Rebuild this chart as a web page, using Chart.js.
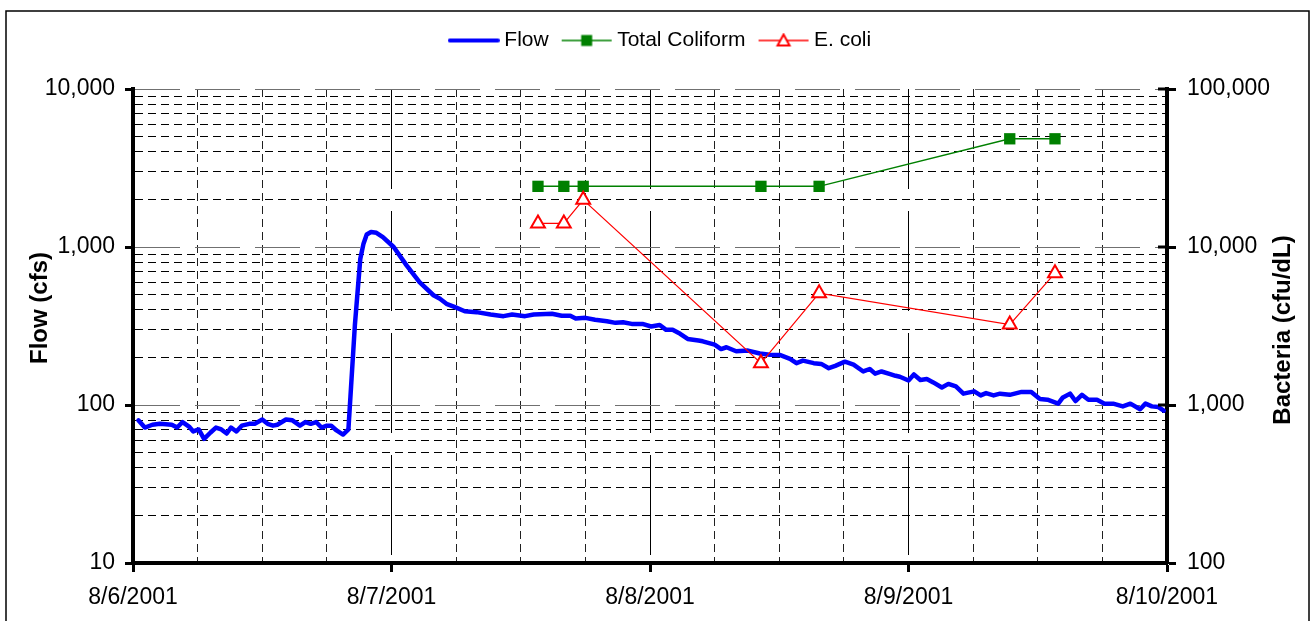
<!DOCTYPE html>
<html>
<head>
<meta charset="utf-8">
<script src="https://cdn.jsdelivr.net/npm/chart.js@4/dist/chart.umd.min.js"></script>
<style>
html,body{margin:0;padding:0;background:#fff;}
#wrap{width:1312px;height:621px;position:relative;}
</style>
</head>
<body>
<div id="wrap"><canvas id="c" width="1312" height="621"></canvas></div>
<script>
// ---------- data ----------
const dayLabels = ['8/6/2001', '8/7/2001', '8/8/2001', '8/9/2001', '8/10/2001'];
const xTickHours = [0, 6, 12, 18, 24, 30, 36, 42, 48, 54, 60, 66, 72, 78, 84, 90, 96];
const flowTickValues = [10, 20, 30, 40, 50, 60, 70, 80, 90, 100, 200, 300, 400, 500, 600, 700, 800, 900, 1000, 2000, 3000, 4000, 5000, 6000, 7000, 8000, 9000, 10000];
const bacteriaTickValues = [100, 1000, 10000, 100000];
const legendNames = ['Flow', 'Total Coliform', 'E. coli'];
const axisTitles = ['Flow (cfs)', 'Bacteria (cfu/dL)'];

// hours after 8/6/2001 00:00
const flowHours = [0.5, 1.1, 1.8, 2.5, 3.6, 4.1, 4.6, 5.2, 5.6, 6.1,
  6.6, 7.2, 7.7, 8.2, 8.7, 9.1, 9.6, 10.1, 10.8, 11.3,
  12.0, 12.5, 13.0, 13.4, 14.2, 14.8, 15.5, 16.0, 16.5, 17.0,
  17.5, 18.0, 18.4, 18.9, 19.5, 20.0, 20.6, 21.1, 21.4, 21.7,
  22.1, 22.6, 23.2, 24.2, 25.4, 26.6, 27.9, 28.5, 29.1, 29.9,
  30.8, 31.9, 33.2, 34.4, 35.2, 36.4, 37.2, 38.9, 39.8, 40.6,
  41.1, 42.0, 42.9, 44.0, 44.8, 45.5, 46.3, 47.3, 48.1, 48.9,
  49.5, 50.1, 50.8, 51.5, 52.5, 52.9, 54.0, 54.6, 55.1, 56.0,
  57.1, 58.2, 59.1, 60.1, 61.0, 61.6, 62.2, 63.2, 63.9, 64.6,
  65.2, 66.1, 66.9, 67.8, 68.4, 68.9, 69.5, 70.3, 70.8, 71.2,
  72.0, 72.5, 73.1, 73.7, 74.3, 75.1, 75.7, 76.4, 77.1, 78.1,
  78.7, 79.2, 79.9, 80.5, 81.4, 82.5, 83.4, 84.2, 84.9, 85.9,
  86.3, 87.0, 87.5, 88.1, 88.7, 89.5, 90.2, 91.0, 91.9, 92.6,
  93.5, 94.0, 94.6, 95.2, 95.7];
const flowValues = [80, 72, 75, 76, 75, 72, 78, 73, 68, 70,
  61, 67, 72, 70, 66, 72, 68, 74, 76, 76,
  81, 76, 74, 75, 81, 80, 74, 78, 76, 78,
  72, 74, 74, 69, 65, 70, 320, 840, 1050, 1200,
  1245, 1230, 1155, 1000, 765, 600, 495, 470, 437, 416,
  392, 387, 374, 365, 374, 365, 374, 378, 367, 367,
  353, 356, 346, 339, 331, 334, 326, 326, 314, 321,
  299, 299, 282, 262, 256, 253, 241, 226, 232, 219,
  221, 212, 208, 207, 196, 184, 191, 184, 182, 171,
  177, 188, 180, 163, 169, 158, 163, 157, 153, 151,
  143, 156, 144, 146, 139, 129, 136, 131, 118, 122,
  115, 119, 115, 118, 116, 121, 121, 109, 108, 102,
  111, 118, 106, 116, 108, 108, 102, 102, 98, 102,
  94, 102, 98, 97, 92];

const sampleHours = [37.6, 40.0, 41.8, 58.3, 63.7, 81.4, 85.6];
const totalColiform = [24200, 24200, 24200, 24200, 24200, 48400, 48400];
const eColi = [14100, 14100, 19900, 1840, 5100, 3230, 6830];

// ---------- helpers ----------
const FONT = '"Liberation Sans", Arial, sans-serif';
const fmt = v => String(Math.round(v)).replace(/\B(?=(\d{3})+(?!\d))/g, ',');
const isDecade = v => Math.abs(Math.log10(v) - Math.round(Math.log10(v))) < 1e-9;
const pts = (xs, ys) => xs.map((x, i) => ({x: x, y: ys[i]}));

function makeIcon(kind) {
  const c = document.createElement('canvas');
  c.width = 52; c.height = 16;
  const g = c.getContext('2d');
  const cy = 8;
  if (kind === 0) {
    g.strokeStyle = '#0000FF'; g.lineWidth = 4; g.lineCap = 'round';
    g.beginPath(); g.moveTo(2, cy); g.lineTo(50, cy); g.stroke();
  } else if (kind === 1) {
    g.strokeStyle = '#008000'; g.lineWidth = 1.5;
    g.beginPath(); g.moveTo(1, cy); g.lineTo(51, cy); g.stroke();
    g.fillStyle = '#008000'; g.fillRect(20.5, cy - 5.5, 11, 11);
  } else {
    g.strokeStyle = '#FF0000'; g.lineWidth = 1.5;
    g.beginPath(); g.moveTo(1, cy); g.lineTo(51, cy); g.stroke();
    g.fillStyle = '#FFFFFF'; g.lineWidth = 2;
    g.beginPath(); g.moveTo(26, cy - 6); g.lineTo(32, cy + 5); g.lineTo(20, cy + 5); g.closePath();
    g.fill(); g.stroke();
  }
  return c;
}
const legendIcons = [makeIcon(0), makeIcon(1), makeIcon(2)];

const legendHeightPlugin = {
  id: 'legendHeight',
  beforeUpdate(chart) {
    const lg = chart.legend;
    if (lg && !lg._hPatched) {
      const f = lg.fit;
      lg.fit = function () { f.call(this); this.height = 77; };
      lg._hPatched = true;
    }
  }
};

const framePlugin = {
  id: 'frame',
  beforeDraw(chart) {
    const ctx = chart.ctx;
    ctx.save();
    ctx.fillStyle = '#fff';
    ctx.fillRect(0, 0, chart.width, chart.height);
    ctx.restore();
  },
  afterDatasetsDraw(chart) {
    // right-axis decade tick marks also cross into the plot area
    const ctx = chart.ctx, s = chart.scales.y2, ca = chart.chartArea;
    ctx.save();
    ctx.strokeStyle = '#000';
    ctx.lineWidth = 3;
    bacteriaTickValues.forEach(v => {
      const py = s.getPixelForValue(v);
      ctx.beginPath(); ctx.moveTo(ca.right - 9, py); ctx.lineTo(ca.right, py); ctx.stroke();
    });
    ctx.restore();
  },
  afterDraw(chart) {
    const ctx = chart.ctx;
    const ca = chart.chartArea;
    ctx.save();
    ctx.strokeStyle = '#000';
    ctx.lineWidth = 1.5;
    ctx.strokeRect(6, 11, chart.width - 9, chart.height + 10);
    ctx.font = 'bold 24px ' + FONT;
    ctx.fillStyle = '#000';
    ctx.textAlign = 'center';
    ctx.textBaseline = 'middle';
    // left axis title
    ctx.save();
    ctx.translate(40, (ca.top + ca.bottom) / 2 - 18);
    ctx.rotate(-Math.PI / 2);
    ctx.fillText(axisTitles[0], 0, 0);
    ctx.restore();
    // right axis title (reads bottom-to-top)
    ctx.save();
    ctx.translate(1283, (ca.top + ca.bottom) / 2 + 4);
    ctx.rotate(-Math.PI / 2);
    ctx.fillText(axisTitles[1], 0, 0);
    ctx.restore();
    ctx.restore();
  }
};

new Chart(document.getElementById('c'), {
  type: 'line',
  data: {
    datasets: [
      {
        label: legendNames[0],
        data: pts(flowHours, flowValues),
        yAxisID: 'y',
        borderColor: '#0000FF',
        borderWidth: 4.5,
        pointRadius: 0,
        tension: 0,
        borderJoinStyle: 'round',
        borderCapStyle: 'round',
        order: 3
      },
      {
        label: legendNames[1],
        data: pts(sampleHours, totalColiform),
        yAxisID: 'y2',
        borderColor: '#008000',
        borderWidth: 1.5,
        pointStyle: 'rect',
        pointRadius: 8,
        pointBackgroundColor: '#008000',
        pointBorderColor: '#008000',
        pointBorderWidth: 0,
        tension: 0,
        order: 2
      },
      {
        label: legendNames[2],
        data: pts(sampleHours, eColi),
        yAxisID: 'y2',
        borderColor: '#FF0000',
        borderWidth: 1.2,
        pointStyle: 'triangle',
        pointRadius: 8,
        pointBackgroundColor: '#FFFFFF',
        pointBorderColor: '#FF0000',
        pointBorderWidth: 2,
        tension: 0,
        order: 1
      }
    ]
  },
  options: {
    responsive: false,
    animation: false,
    devicePixelRatio: 1,
    layout: {padding: {left: 13, right: 0, top: 12, bottom: 0}},
    plugins: {
      tooltip: {enabled: false},
      legend: {
        display: true,
        position: 'top',
        align: 'center',
        labels: {
          usePointStyle: true,
          pointStyleWidth: 40,
          padding: 18,
          color: '#000',
          font: {family: FONT, size: 21},
          generateLabels: () => legendNames.map((t, i) => ({
            text: t, pointStyle: legendIcons[i], fillStyle: 'rgba(0,0,0,0)',
            strokeStyle: 'rgba(0,0,0,0)', lineWidth: 0, hidden: false,
            datasetIndex: i, fontColor: '#000'
          }))
        }
      }
    },
    scales: {
      x: {
        type: 'linear',
        min: 0, max: 96,
        afterBuildTicks: s => { s.ticks = xTickHours.map(v => ({value: v})); },
        afterFit: s => { s.height = 58; },
        ticks: {
          autoSkip: false, maxRotation: 0, minRotation: 0,
          padding: 12,
          color: '#000',
          font: {family: FONT, size: 23},
          callback: v => (v % 24 === 0 ? dayLabels[v / 24] : '')
        },
        grid: {
          color: c => (c.tick && c.tick.value % 24 === 0 ? '#000' : '#202020'),
          lineWidth: 1,
          tickLength: 9,
          tickWidth: 3,
          tickColor: c => (c.tick && c.tick.value % 24 === 0 ? '#000' : 'rgba(0,0,0,0)')
        },
        border: {
          display: true, color: '#000', width: 4,
          dash: c => (c.tick ? (c.tick.value % 24 === 0 ? [100, 22] : [8, 5]) : [])
        }
      },
      y: {
        type: 'logarithmic',
        position: 'left',
        min: 10, max: 10000,
        afterBuildTicks: s => { s.ticks = flowTickValues.map(v => ({value: v})); },
        afterFit: s => { s.width = 120; },
        ticks: {
          autoSkip: false,
          padding: 10,
          color: '#000',
          font: {family: FONT, size: 23},
          callback: v => (isDecade(v) ? fmt(v) : '')
        },
        grid: {
          color: c => (c.tick && isDecade(c.tick.value) ? '#707070' : '#000'),
          lineWidth: 1,
          tickLength: 8,
          tickWidth: 3,
          tickColor: c => (c.tick && isDecade(c.tick.value) ? '#000' : 'rgba(0,0,0,0)')
        },
        border: {
          display: true, color: '#000', width: 4,
          dash: c => (c.tick ? (isDecade(c.tick.value) ? [45, 15] : [8, 5]) : [])
        }
      },
      y2: {
        type: 'logarithmic',
        position: 'right',
        min: 100, max: 100000,
        afterBuildTicks: s => { s.ticks = bacteriaTickValues.map(v => ({value: v})); },
        afterFit: s => { s.width = 145; },
        ticks: {
          autoSkip: false,
          padding: 11,
          color: '#000',
          font: {family: FONT, size: 23},
          callback: v => fmt(v)
        },
        grid: {
          drawOnChartArea: false,
          tickLength: 9,
          tickWidth: 3,
          tickColor: '#000'
        },
        border: {display: true, color: '#000', width: 4}
      }
    }
  },
  plugins: [legendHeightPlugin, framePlugin]
});
</script>
</body>
</html>
